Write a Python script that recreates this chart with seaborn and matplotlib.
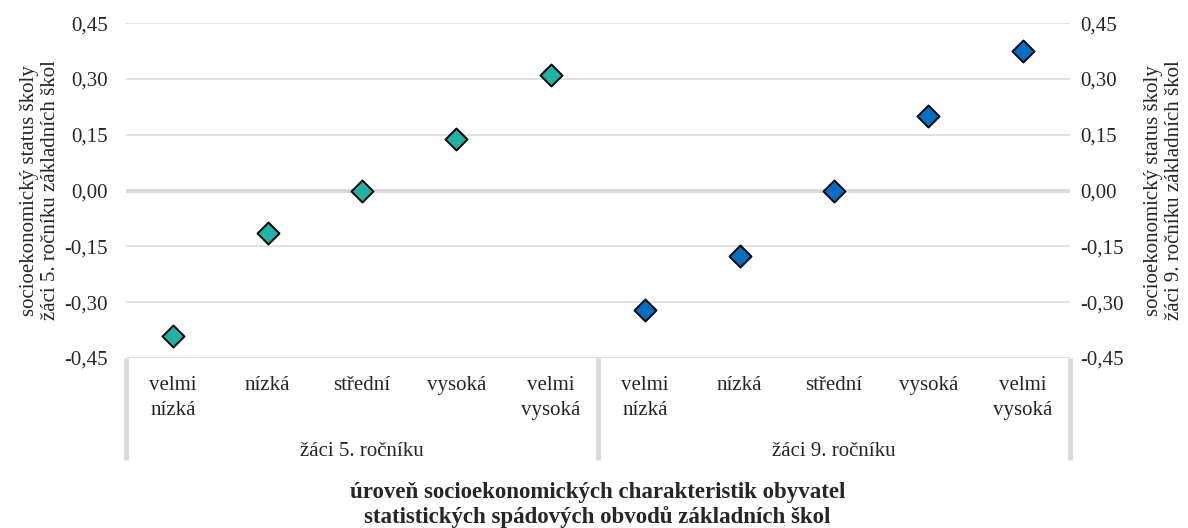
import numpy as np
import pandas as pd
import seaborn as sns
import matplotlib.pyplot as plt
import matplotlib.transforms as mtransforms

# data
levels = ['velmi\nnízká', 'nízká', 'střední', 'vysoká', 'velmi\nvysoká']
groups = ['žáci 5. ročníku', 'žáci 9. ročníku']
status_5 = [-0.39, -0.113, 0.0, 0.139, 0.311]
status_9 = [-0.322, -0.177, 0.0, 0.201, 0.375]
ticks_y = [-0.45, -0.30, -0.15, 0.00, 0.15, 0.30, 0.45]

colors = {'žáci 5. ročníku': '#20B2A6', 'žáci 9. ročníku': '#0070C6'}

df = pd.DataFrame({
    'pos': np.arange(10),
    'level': levels * 2,
    'group': [groups[0]] * 5 + [groups[1]] * 5,
    'value': status_5 + status_9,
})

sns.set_style('white')
plt.rcParams['font.family'] = ['Liberation Serif', 'DejaVu Serif']
fs = 15

fig = plt.figure(figsize=(11.88, 5.28), dpi=100)
ax = fig.add_axes([0.106, 0.322, 0.7947, 0.6342])
ax2 = ax.twinx()

grid_col = '#d9d9d9'
for t in ticks_y:
    ax.axhline(t, color=grid_col, lw=2.8 if t == 0 else 1.1, zorder=0)

sns.scatterplot(data=df[df['group'] == groups[0]], x='pos', y='value', ax=ax,
                marker='D', s=125, color=colors[groups[0]], edgecolor='black',
                linewidth=1.4, zorder=3, legend=False)
sns.scatterplot(data=df[df['group'] == groups[1]], x='pos', y='value', ax=ax2,
                marker='D', s=125, color=colors[groups[1]], edgecolor='black',
                linewidth=1.4, zorder=3, legend=False)

for a in (ax, ax2):
    a.set_ylim(-0.45, 0.45)
    a.set_xlim(-0.5, 9.5)
    a.set_yticks(ticks_y)
    a.set_yticklabels([f'{t:.2f}'.replace('.', ',') for t in ticks_y])
    a.tick_params(axis='y', length=0, labelsize=fs)
    for sp in a.spines.values():
        sp.set_visible(False)
    a.grid(False)
ax.tick_params(axis='y', pad=13)
ax2.tick_params(axis='y', pad=7)

ax.set_xticks(df['pos'])
ax.set_xticklabels(df['level'], linespacing=1.45)
ax.tick_params(axis='x', length=0, pad=13, labelsize=fs)
ax.set_xlabel('')

# group labels and separators of the category table
trans = mtransforms.blended_transform_factory(ax.transData, ax.transAxes)
for i, g in enumerate(groups):
    ax.text(2 + 5 * i, -0.278, g, transform=trans, ha='center', va='center', fontsize=fs)
for xs in [-0.5, 4.5, 9.5]:
    ax.plot([xs, xs], [0, -0.304], transform=trans, color=grid_col, lw=3.5,
            clip_on=False, solid_capstyle='butt')

ax.set_ylabel('socioekonomický status školy\nžáci 5. ročníku základních škol',
              fontsize=fs, labelpad=3, linespacing=1.15)
ax2.set_ylabel('socioekonomický status školy\nžáci 9. ročníku základních škol',
               fontsize=fs, labelpad=15, linespacing=1.15)

fig.text(0.503, 0.043, 'úroveň socioekonomických charakteristik obyvatel\nstatistických spádových obvodů základních škol',
         ha='center', va='center', fontsize=16.5, fontweight='bold', linespacing=1.2)

fig.savefig('out.png', dpi=100)
